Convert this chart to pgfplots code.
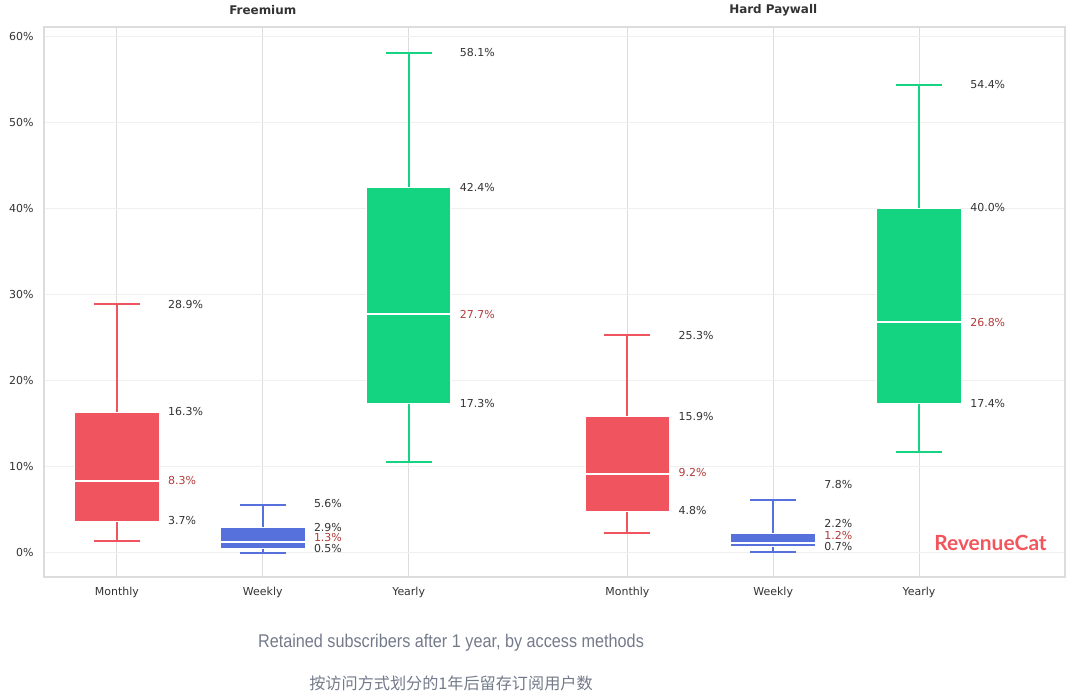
\documentclass[border=0pt]{standalone}
\usepackage{pgfplots}
\pgfplotsset{compat=1.18}
\usepgfplotslibrary{statistics}
\usepackage{fontspec}
\setmainfont{DejaVu Sans}
\newfontfamily\capfont[FakeStretch=0.88]{Liberation Sans}
\newfontfamily\logofont{Lato}
\newfontfamily\cjk{Noto Sans CJK SC}
\definecolor{cred}{HTML}{F0555F}
\definecolor{cblue}{HTML}{5670DC}
\definecolor{cgreen}{HTML}{14D482}
\definecolor{medred}{HTML}{B23A3A}
\definecolor{txt}{HTML}{333333}
\definecolor{gridv}{HTML}{DCDCDC}
\definecolor{gridh}{HTML}{F0F0F0}
\definecolor{capgray}{HTML}{737A8A}
\definecolor{logored}{HTML}{F2555C}
\pgfplotsset{
  bx/.style={mark=none, solid, boxplot/draw direction=y,
    boxplot/every box/.style={fill=#1, draw=white, line width=1bp},
    boxplot/every median/.style={draw=white, line width=2bp},
    boxplot/every whisker/.style={draw=#1, line width=2bp}},
}
\pgfplotstableread{
x y l
0.35 28.9 28.9
0.35 16.4 16.3
0.35 3.8 3.7
1.35 5.7 5.6
1.35 3.0 2.9
1.35 0.55 0.5
2.35 58.1 58.1
2.35 42.4 42.4
2.35 17.3 17.3
3.85 25.3 25.3
3.85 15.9 15.9
3.85 4.9 4.8
4.85 7.9 7.8
4.85 3.4 2.2
4.85 0.7 0.7
5.85 54.4 54.4
5.85 40.1 40.0
5.85 17.4 17.4
}\blacklabels
\pgfplotstableread{
x y l
0.35 8.4 8.3
1.35 1.75 1.3
2.35 27.7 27.7
3.85 9.3 9.2
4.85 2.0 1.2
5.85 26.8 26.8
}\redlabels
\begin{document}
\begin{tikzpicture}
\useasboundingbox (0,0) rectangle (1080bp,700bp);
\begin{axis}[
  at={(44bp,123bp)}, anchor=south west,
  scale only axis, width=1021bp, height=550bp,
  xmin=-0.5, xmax=6.5, ymin=-2.8, ymax=61.1,
  xtick={0,1,2,3.5,4.5,5.5},
  xticklabels={Monthly,Weekly,Yearly,Monthly,Weekly,Yearly},
  ytick={0,10,20,30,40,50,60},
  yticklabel={\pgfmathprintnumber{\tick}\%},
  /pgf/number format/assume math mode=true,
  xmajorgrids, ymajorgrids,
  major x grid style={draw=gridv, line width=1bp},
  major y grid style={draw=gridh, line width=1.2bp},
  axis line style={draw=gridv, line width=1.5bp},
  tick style={draw=none},
  ticklabel style={font=\fontsize{11}{13}\selectfont, text=txt},
  yticklabel style={xshift=-7bp},
  xticklabel style={yshift=-7bp},
  clip=false,
]
\addplot[bx=cred, boxplot prepared={draw position=0, lower whisker=1.4, lower quartile=3.7, median=8.3, upper quartile=16.3, upper whisker=28.9, box extend=0.58, whisker extend=0.315}] coordinates {};
\addplot[bx=cblue, boxplot prepared={draw position=1, lower whisker=0.0, lower quartile=0.5, median=1.3, upper quartile=2.9, upper whisker=5.6, box extend=0.58, whisker extend=0.315}] coordinates {};
\addplot[bx=cgreen, boxplot prepared={draw position=2, lower whisker=10.6, lower quartile=17.3, median=27.7, upper quartile=42.4, upper whisker=58.1, box extend=0.58, whisker extend=0.315}] coordinates {};
\addplot[bx=cred, boxplot prepared={draw position=3.5, lower whisker=2.3, lower quartile=4.8, median=9.2, upper quartile=15.9, upper whisker=25.3, box extend=0.58, whisker extend=0.315}] coordinates {};
\addplot[bx=cblue, boxplot prepared={draw position=4.5, lower whisker=0.1, lower quartile=0.7, median=1.2, upper quartile=2.2, upper whisker=6.2, box extend=0.58, whisker extend=0.315}] coordinates {};
\addplot[bx=cgreen, boxplot prepared={draw position=5.5, lower whisker=11.7, lower quartile=17.4, median=26.8, upper quartile=40.0, upper whisker=54.4, box extend=0.58, whisker extend=0.315}] coordinates {};
\addplot[draw=none, mark=none, point meta=explicit symbolic,
  nodes near coords={\pgfplotspointmeta\%}, nodes near coords align=horizontal,
  every node near coord/.style={anchor=west, inner sep=0pt, font=\fontsize{11}{13}\selectfont, text=txt}]
  table[x=x, y=y, meta=l] {\blacklabels};
\addplot[draw=none, mark=none, point meta=explicit symbolic,
  nodes near coords={\pgfplotspointmeta\%}, nodes near coords align=horizontal,
  every node near coord/.style={anchor=west, inner sep=0pt, font=\fontsize{11}{13}\selectfont, text=medred}]
  table[x=x, y=y, meta=l] {\redlabels};
\node[font=\bfseries\fontsize{12}{14}\selectfont, text=txt] at (axis cs:1,61.1) [yshift=17bp] {Freemium};
\node[font=\bfseries\fontsize{12}{14}\selectfont, text=txt] at (axis cs:4.5,61.1) [yshift=17bp] {Hard Paywall};
\node[font=\logofont\bfseries\fontsize{21}{23}\selectfont, text=logored] at (axis cs:5.99,1.2) {RevenueCat};
\end{axis}
\node[font=\capfont\fontsize{18.5}{20}\selectfont, text=capgray] at (451bp,57bp) {Retained subscribers after 1 year, by access methods};
\node[font=\cjk\fontsize{16.2}{18}\selectfont, text=capgray] at (451bp,17bp) {按访问方式划分的1年后留存订阅用户数};
\end{tikzpicture}
\end{document}
